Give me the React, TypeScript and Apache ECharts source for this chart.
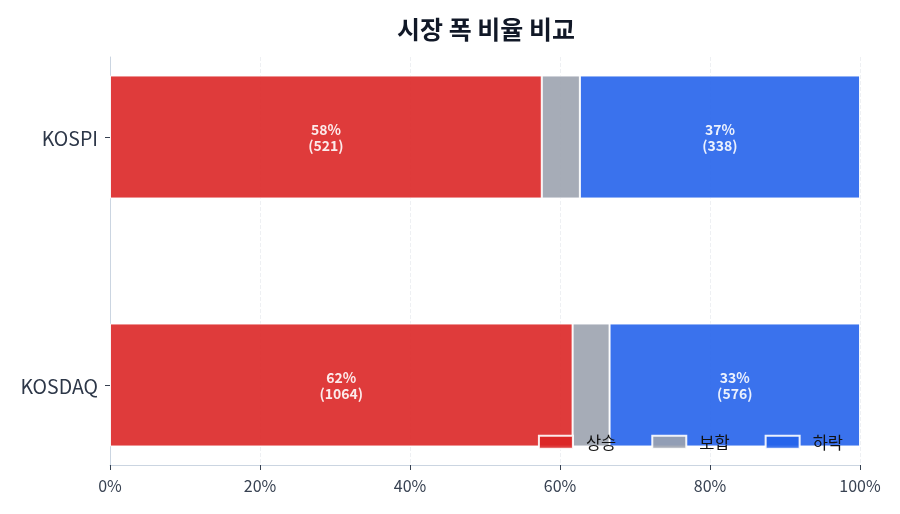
import React, { useEffect, useRef } from 'react';
import * as echarts from 'echarts';

const markets = ['KOSPI', 'KOSDAQ'];
const seriesNames = ['상승', '보합', '하락'];
const advancing = [521, 1064];
const unchanged = [46, 85];
const declining = [338, 576];
const xTicks = [0, 20, 40, 60, 80, 100];
const colors = ['#dc2626', '#9ca3af', '#2563eb'];

const FONT = '"Noto Sans CJK KR", "Noto Sans", sans-serif';

export default function App() {
    const chartRef = useRef<HTMLDivElement>(null);

    useEffect(() => {
        const chart = echarts.init(chartRef.current!, null, { renderer: 'svg' });

        const totals = markets.map((_, i) => advancing[i] + unchanged[i] + declining[i]);
        const raw = [advancing, unchanged, declining];

        chart.setOption({
            animation: false,
            textStyle: { fontFamily: FONT },
            title: {
                text: '시장 폭 비율 비교',
                left: 481,
                top: 10,
                textAlign: 'center',
                textStyle: { fontSize: 25, fontWeight: 'bold', color: '#111827', fontFamily: FONT },
            },
            legend: {
                data: seriesNames,
                right: 52,
                top: 429,
                icon: 'rect',
                itemWidth: 34,
                itemHeight: 13,
                itemGap: 35,
                textStyle: { fontSize: 16.5, color: '#111', fontFamily: FONT, padding: [0, 0, 0, 8] },
            },
            grid: [
                // bars
                { left: 110, right: 40, top: 13, bottom: 5 },
                // axis frame
                { left: 110, right: 40, top: 57, bottom: 49 },
            ],
            xAxis: [
                { gridIndex: 0, type: 'value', min: 0, max: 100, show: false },
                {
                    gridIndex: 1,
                    type: 'value',
                    min: xTicks[0],
                    max: xTicks[xTicks.length - 1],
                    interval: xTicks[1] - xTicks[0],
                    axisLabel: { formatter: '{value}%', fontSize: 16, color: '#374151', margin: 12 },
                    axisLine: { show: true, lineStyle: { color: '#cbd5e1' } },
                    axisTick: { show: true, length: 5, lineStyle: { color: '#374151' } },
                    splitLine: { show: true, lineStyle: { type: 'dashed', color: '#eef0f3' } },
                },
            ],
            yAxis: [
                {
                    gridIndex: 0,
                    type: 'category',
                    data: markets,
                    inverse: true,
                    axisLabel: { fontSize: 19.5, color: '#2d3748', margin: 12 },
                    axisLine: { show: false },
                    axisTick: { show: true, alignWithLabel: true, length: 5, lineStyle: { color: '#374151' } },
                },
                {
                    gridIndex: 1,
                    type: 'value',
                    axisLabel: { show: false },
                    axisTick: { show: false },
                    splitLine: { show: false },
                    axisLine: { show: true, lineStyle: { color: '#cbd5e1' } },
                },
            ],
            series: seriesNames.map((name, s) => ({
                name,
                type: 'bar',
                stack: 'total',
                xAxisIndex: 0,
                yAxisIndex: 0,
                barWidth: 123,
                data: raw[s].map((v, i) => ({ value: (v / totals[i]) * 100, count: v })),
                itemStyle: { color: colors[s], opacity: 0.9, borderColor: '#fff', borderWidth: 1 },
                label: {
                    show: s !== 1,
                    position: 'inside',
                    color: '#fff',
                    fontWeight: 'bold',
                    fontSize: 14,
                    lineHeight: 16,
                    formatter: (p: any) => `${Math.round(p.value)}%\n(${p.data.count})`,
                },
            })),
        });

        const observer = new ResizeObserver(() => chart.resize());
        observer.observe(chartRef.current!);

        return () => {
            observer.disconnect();
            chart.dispose();
        };
    }, []);

    return (
        <div
            ref={chartRef}
            style={{ position: 'fixed', left: 0, top: 0, width: 900, height: 514 }}
        />
    );
}
